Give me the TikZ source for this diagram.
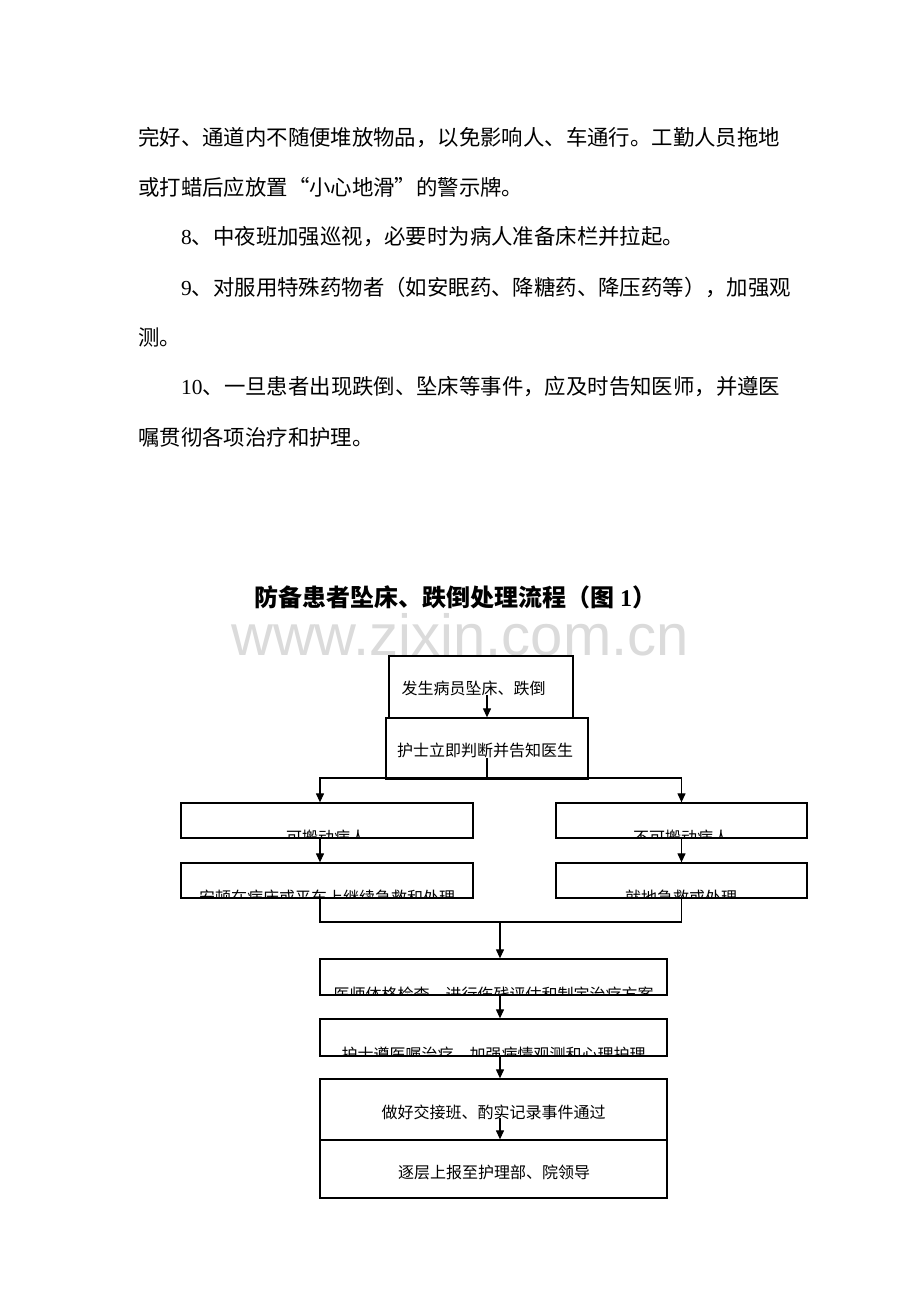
\documentclass[tikz,border=0pt]{standalone}
\usepackage{fontspec}
\usetikzlibrary{arrows.meta}
\newfontfamily\cjk{Noto Sans CJK SC}
\newfontfamily\lat{Liberation Serif}
\newfontfamily\wmfont{Liberation Sans}
\begin{document}
\begin{tikzpicture}[x=1pt,y=-1pt,
  body/.style={anchor=west,inner sep=0pt,font=\cjk\fontsize{21.4pt}{21.4pt}\selectfont},
  boxtxt/.style={inner sep=0pt,font=\cjk\fontsize{16pt}{16pt}\selectfont},
  box/.style={draw,line width=1.3pt,inner sep=0pt,rectangle},
  mask/.style={fill=white,draw=none},
  base/.style={line width=1.6pt},
  ln/.style={line width=1.2pt},
  arr/.style={line width=1.2pt,-{Triangle[length=9pt,width=8pt]}}]
\useasboundingbox (0,0) rectangle (920,1302);
\fill[white] (0,0) rectangle (920,1302);

% body text
\node[body] (l1) at (138,138) {完好、通道内不随便堆放物品，以免影响人、车通行。工勤人员拖地};
\node[body] (l2) at (138,187) {或打蜡后应放置“小心地滑”的警示牌。};
\node[body] (l3) at (181,237) {{\lat 8}、中夜班加强巡视，必要时为病人准备床栏并拉起。};
\node[body] (l4) at (181,287) {{\lat 9}、对服用特殊药物者（如安眠药、降糖药、降压药等），加强观};
\node[body] (l5) at (138,337) {测。};
\node[body] (l6) at (181,387) {{\lat 10}、一旦患者出现跌倒、坠床等事件，应及时告知医师，并遵医};
\node[body] (l7) at (138,437) {嘱贯彻各项治疗和护理。};

% watermark
\node[anchor=base,inner sep=0pt,text=black!14,font=\wmfont\fontsize{58pt}{58pt}\selectfont] (wm) at (460,655) {www.zixin.com.cn};

% title
\node[inner sep=0pt,font=\cjk\bfseries\fontsize{24pt}{24pt}\selectfont] (title) at (455,597) {防备患者坠床、跌倒处理流程（图{\lat\bfseries\ 1}）};

% box texts (lower rows are cut off by the box bottom, as in the reference)
\node[boxtxt] (At) at (473.5,688) {发生病员坠床、跌倒};
\node[boxtxt] (Bt) at (485,750) {护士立即判断并告知医生};
\node[boxtxt] (C1t) at (326,837.5) {可搬动病人};
\node[boxtxt] (C2t) at (681,837.5) {不可搬动病人};
\node[boxtxt] (D1t) at (327,897.5) {安顿在病床或平车上继续急救和处理};
\node[boxtxt] (D2t) at (681,897.5) {就地急救或处理};
\node[boxtxt] (Et) at (493.5,994.5) {医师体格检查，进行伤残评估和制定治疗方案};
\node[boxtxt] (Ft) at (493.5,1055) {护士遵医嘱治疗，加强病情观测和心理护理};
\node[boxtxt] (Gt) at (493.5,1112) {做好交接班、酌实记录事件通过};
\node[boxtxt] (Ht) at (494,1172) {逐层上报至护理部、院领导};

% white strips hiding the text below the box bottoms
\fill[mask] (182,839) rectangle (472,852);
\fill[mask] (557,839) rectangle (806,852);
\fill[mask] (182,899) rectangle (472,912);
\fill[mask] (557,899) rectangle (806,912);
\fill[mask] (321,996) rectangle (666,1009);
\fill[mask] (321,1057) rectangle (666,1070);

% boxes
\node[box,minimum width=184pt,minimum height=62pt] (A) at (481,687) {};
\node[box,minimum width=202pt,minimum height=61pt] (B) at (487,748.5) {};
\node[box,minimum width=292pt,minimum height=35pt] (C1) at (327,820.5) {};
\node[box,minimum width=251pt,minimum height=35pt] (C2) at (681.5,820.5) {};
\node[box,minimum width=292pt,minimum height=35pt] (D1) at (327,880.5) {};
\node[box,minimum width=251pt,minimum height=35pt] (D2) at (681.5,880.5) {};
\node[box,minimum width=347pt,minimum height=36pt] (E) at (493.5,977) {};
\node[box,minimum width=347pt,minimum height=37pt] (F) at (493.5,1037.5) {};
\node[box,minimum width=347pt,minimum height=61pt] (G) at (493.5,1109.5) {};
\node[box,minimum width=347pt,minimum height=58pt] (H) at (493.5,1169) {};

% connector coordinates
\coordinate (a1) at (487,695);
\coordinate (bs) at (487,758);
\coordinate (bj) at (487,778);
\coordinate (xl) at (320,0);
\coordinate (jn) at (500,922);
\coordinate (g1) at (500,1118);

% connectors
\draw[arr] (a1) -- (B.north);
\draw[ln] (bs) -- (bj);
\draw[arr] (bj) -| (xl |- C1.north);
\draw[arr] (bj) -| (C2.north);
\draw[arr] (xl |- C1.south) -- (xl |- D1.north);
\draw[arr] (C2.south) -- (D2.north);
\draw[ln] (xl |- D1.south) |- (jn);
\draw[ln] (D2.south) |- (jn);
\draw[arr] (jn) -- (jn |- E.north);
\draw[arr] (jn |- E.south) -- (jn |- F.north);
\draw[arr] (jn |- F.south) -- (jn |- G.north);
\draw[arr] (g1) -- (jn |- H.north);

% box bottoms, drawn last on top of everything
\foreach \b in {C1,C2,D1,D2,E,F}
  \draw[base] (\b.south west) -- (\b.south east);
\end{tikzpicture}
\end{document}
